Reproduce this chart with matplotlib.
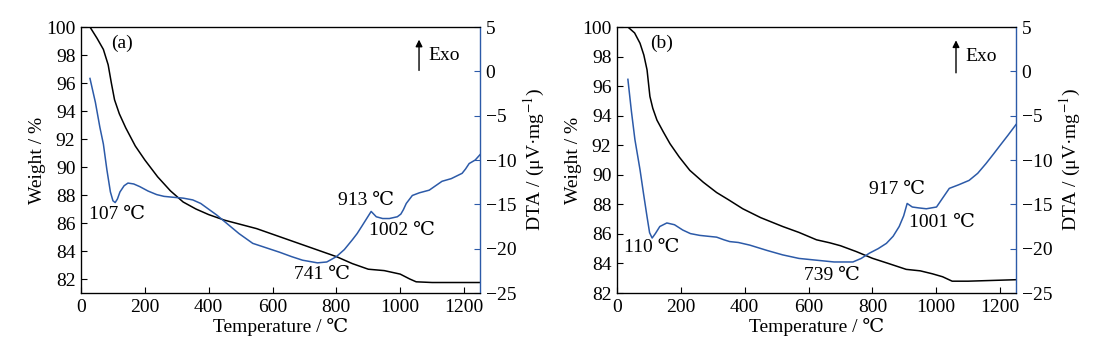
import numpy as np
import matplotlib
matplotlib.use("Agg")
import matplotlib.pyplot as plt

plt.rcParams["font.family"] = ["Liberation Serif", "DejaVu Serif"]
plt.rcParams["mathtext.fontset"] = "stix"
plt.rcParams["font.size"] = 14

BLUE = "#2c5aa8"
FS = 14

# --- (a) TG curve ---
tg_a_t = [28, 50, 70, 85, 95, 105, 120, 140, 170, 200, 240, 280, 320, 360, 400,
          450, 500, 550, 600, 650, 700, 750, 800, 850, 900, 950, 1000, 1030,
          1050, 1100, 1250]
tg_a_w = [100, 99.2, 98.4, 97.3, 96.0, 94.8, 93.8, 92.8, 91.5, 90.5, 89.3, 88.3,
          87.5, 87.0, 86.6, 86.2, 85.9, 85.6, 85.2, 84.8, 84.4, 84.0, 83.6, 83.1,
          82.7, 82.6, 82.35, 82.0, 81.8, 81.75, 81.75]

# --- (a) DTA curve ---
dta_a_t = [28, 45, 59, 70, 81, 92, 100, 107, 114, 122, 135, 147, 165, 184, 210,
           237, 260, 288, 320, 350, 375, 398, 425, 455, 495, 538, 580, 622, 660,
           694, 741, 770, 800, 825, 850, 865, 881, 895, 909, 917, 925, 945, 966,
           991, 1002, 1010, 1019, 1038, 1060, 1091, 1131, 1160, 1194, 1205,
           1216, 1235, 1250]
dta_a_v = [-0.8, -3.5, -6.3, -8.2, -11.1, -13.6, -14.6, -14.8, -14.4, -13.6,
           -12.9, -12.6, -12.7, -13.0, -13.5, -13.9, -14.1, -14.2, -14.3, -14.5,
           -14.9, -15.5, -16.2, -17.1, -18.3, -19.4, -19.9, -20.4, -20.9, -21.3,
           -21.6, -21.5, -20.9, -20.1, -19.0, -18.3, -17.4, -16.6, -15.8, -16.1,
           -16.4, -16.6, -16.6, -16.4, -16.1, -15.6, -14.9, -14.0, -13.7, -13.4,
           -12.4, -12.1, -11.5, -11.0, -10.4, -10.0, -9.4]

# --- (b) TG curve ---
tg_b_t = [34, 55, 72, 84, 94, 103, 112, 125, 145, 166, 195, 228, 270, 312, 350,
          394, 450, 519, 570, 625, 666, 700, 750, 800, 850, 906, 950, 988,
          1020, 1050, 1100, 1250]
tg_b_w = [100, 99.6, 98.9, 98.1, 97.1, 95.3, 94.5, 93.7, 92.9, 92.1, 91.2,
          90.3, 89.5, 88.8, 88.3, 87.7, 87.1, 86.5, 86.1, 85.6, 85.4, 85.2,
          84.8, 84.35, 84.0, 83.6, 83.5, 83.3, 83.1, 82.8, 82.8, 82.9]

# --- (b) DTA curve ---
dta_b_t = [34, 45, 56, 64, 72, 83, 94, 102, 110, 120, 134, 156, 180, 206, 230,
           259, 285, 312, 335, 353, 380, 416, 470, 519, 570, 625, 680, 739,
           765, 791, 818, 844, 865, 884, 898, 909, 917, 925, 945, 969, 1001,
           1020, 1041, 1070, 1103, 1130, 1156, 1180, 1197, 1225, 1250]
dta_b_v = [-0.9, -4.5, -7.7, -9.4, -11.1, -13.8, -16.4, -18.2, -18.8, -18.3,
           -17.5, -17.1, -17.3, -17.9, -18.3, -18.5, -18.6, -18.7, -19.0, -19.2,
           -19.3, -19.6, -20.2, -20.7, -21.1, -21.3, -21.5, -21.5, -21.1, -20.5,
           -20.0, -19.4, -18.6, -17.5, -16.3, -14.9, -15.1, -15.3, -15.4, -15.5,
           -15.3, -14.3, -13.2, -12.8, -12.3, -11.5, -10.4, -9.3, -8.5, -7.2, -6.0]

panels = [
    dict(tag="(a)", tg_t=tg_a_t, tg_w=tg_a_w, dta_t=dta_a_t, dta_v=dta_a_v,
         wlim=(81, 100), wticks=range(82, 101, 2),
         labels=[("107 ℃", 112, 86.6), ("913 ℃", 894, 87.6),
                 ("1002 ℃", 1006, 85.5), ("741 ℃", 756, 82.3)],
         tag_xy=(128, 98.8), arrow_x=1059, exo_y=(96.9, 99.1)),
    dict(tag="(b)", tg_t=tg_b_t, tg_w=tg_b_w, dta_t=dta_b_t, dta_v=dta_b_v,
         wlim=(82, 100), wticks=range(82, 101, 2),
         labels=[("110 ℃", 109, 85.1), ("917 ℃", 878, 89.0),
                 ("1001 ℃", 1019, 86.8), ("739 ℃", 672, 83.2)],
         tag_xy=(141, 98.9), arrow_x=1062, exo_y=(96.9, 99.1)),
]

fig = plt.figure(figsize=(11.07, 3.45), dpi=100)
lefts = [0.0732, 0.5574]

for left, p in zip(lefts, panels):
    ax = fig.add_axes([left, 0.1507, 0.3604, 0.771])
    ax2 = ax.twinx()

    ax.plot(p["tg_t"], p["tg_w"], color="black", lw=1.1)
    ax2.plot(p["dta_t"], p["dta_v"], color=BLUE, lw=1.1)

    ax.set_xlim(0, 1250)
    ax.set_ylim(*p["wlim"])
    ax.set_yticks(list(p["wticks"]))
    ax.set_xticks([0, 200, 400, 600, 800, 1000, 1200])
    ax2.set_ylim(-25, 5)
    ax2.set_yticks([-25, -20, -15, -10, -5, 0, 5])
    ax2.set_yticklabels(["−25", "−20", "−15", "−10", "−5", "0", "5"])

    ax.tick_params(direction="in", length=4, width=0.8, labelsize=FS, pad=4)
    ax2.tick_params(direction="in", length=4, width=0.8, labelsize=FS, pad=4,
                    color=BLUE)
    ax2.spines["right"].set_color(BLUE)
    ax2.spines["right"].set_linewidth(1.0)
    ax.spines["right"].set_visible(False)
    for s in ["left", "bottom", "top"]:
        ax.spines[s].set_linewidth(0.9)

    ax.set_xlabel("Temperature / ℃", fontsize=FS, labelpad=2)
    ax.set_ylabel("Weight / %", fontsize=FS, labelpad=0)
    ax2.set_ylabel("DTA / (μV·mg$^{-1}$)", fontsize=FS, labelpad=4)

    ax.text(*p["tag_xy"], p["tag"], ha="center", va="center", fontsize=FS)
    for txt, x, y in p["labels"]:
        ax.text(x, y, txt, ha="center", va="center", fontsize=FS)

    ax.annotate("", xy=(p["arrow_x"], p["exo_y"][1]),
                xytext=(p["arrow_x"], p["exo_y"][0]),
                arrowprops=dict(arrowstyle="-|>", color="black", lw=1.0,
                                mutation_scale=10, shrinkA=0, shrinkB=0))
    ax.text(p["arrow_x"] + 30, 98.0, "Exo", ha="left", va="center", fontsize=FS)

fig.savefig("out.png", dpi=100)
